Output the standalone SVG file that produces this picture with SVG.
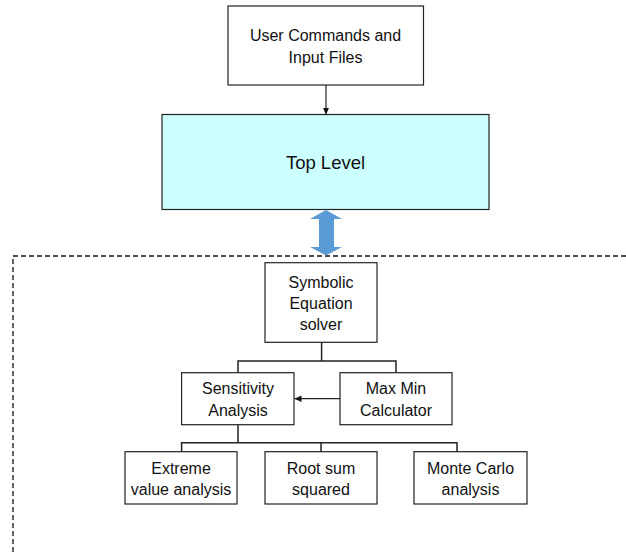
<svg xmlns="http://www.w3.org/2000/svg" width="626" height="552" viewBox="0 0 626 552">
<defs>
<style>
.box{fill:#fff;stroke:#222;stroke-width:1.2}
.t{font-family:"Liberation Sans","Open Sans",sans-serif;font-size:16px;fill:#111;text-anchor:middle}
.c{fill:none;stroke:#222;stroke-width:1.2}
</style>
<marker id="ah" markerWidth="8" markerHeight="8" refX="7" refY="4" orient="auto" markerUnits="userSpaceOnUse">
<path d="M0,0.8 L7,4 L0,7.2 z" fill="#111"/>
</marker>
</defs>
<rect width="626" height="552" fill="#fff"/>
<g id="user">
<rect class="box" x="228" y="6" width="195.5" height="79"/>
<text class="t" x="325.5" y="40.5">User Commands and</text>
<text class="t" x="325.5" y="62.5">Input Files</text>
</g>
<g id="top">
<rect x="162" y="114.5" width="327" height="95" fill="#CCFFFF" stroke="#222" stroke-width="1.2"/>
<text class="t" x="325.5" y="169" style="font-size:18.5px">Top Level</text>
</g>
<g id="boundary">
<path d="M13,552 V256 H626" fill="none" stroke="#111" stroke-width="1.3" stroke-dasharray="5,3"/>
</g>
<g id="symbolic">
<rect class="box" x="265" y="262.7" width="112" height="79.6"/>
<text class="t" x="321" y="287.5">Symbolic</text>
<text class="t" x="321" y="308.5">Equation</text>
<text class="t" x="321" y="329.5">solver</text>
</g>
<g id="sensitivity">
<rect class="box" x="181.6" y="372.7" width="112.4" height="52"/>
<text class="t" x="238" y="393.5">Sensitivity</text>
<text class="t" x="238" y="415.5">Analysis</text>
</g>
<g id="maxmin">
<rect class="box" x="340" y="372.7" width="112" height="52"/>
<text class="t" x="396" y="393.5">Max Min</text>
<text class="t" x="396" y="415.5">Calculator</text>
</g>
<g id="extreme">
<rect class="box" x="125" y="451.7" width="112" height="52.3"/>
<text class="t" x="181" y="473.5">Extreme</text>
<text class="t" x="181" y="494.5">value analysis</text>
</g>
<g id="rss">
<rect class="box" x="265" y="451.7" width="112" height="52.3"/>
<text class="t" x="321" y="473.5">Root sum</text>
<text class="t" x="321" y="494.5">squared</text>
</g>
<g id="montecarlo">
<rect class="box" x="414" y="451.7" width="113" height="52.3"/>
<text class="t" x="470.5" y="473.5">Monte Carlo</text>
<text class="t" x="470.5" y="494.5">analysis</text>
</g>
<g id="connectors">
<line class="c" x1="326" y1="85" x2="326" y2="114.5" marker-end="url(#ah)"/>
<path d="M319,219 H310 L326,210 L342,219 H334 V247 H342 L326,255.5 L310,247 H319 Z" fill="#5B9BD5"/>
<path class="c" d="M321.6,342.3 V361 M238,372.7 V361 H396 V372.7" style="stroke-width:1.5"/>
<line class="c" x1="340" y1="398.7" x2="294.5" y2="398.7" marker-end="url(#ah)"/>
<path class="c" d="M238,424.7 V442.7 M181.6,451.7 V442.7 H457 V451.7 M321,442.7 V451.7" style="stroke-width:1.5"/>
</g>
</svg>
